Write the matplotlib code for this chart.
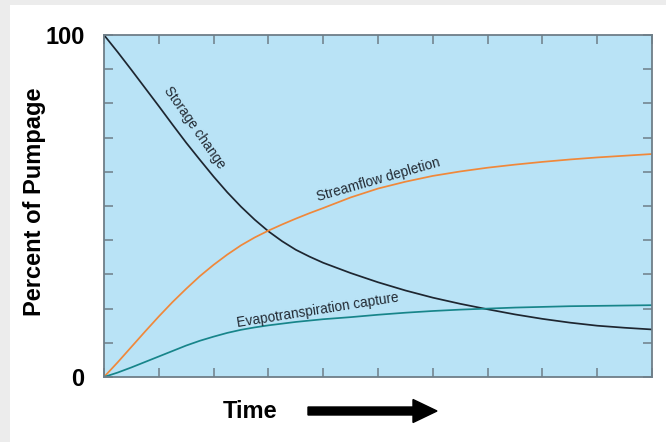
import matplotlib
matplotlib.use("Agg")
import matplotlib.pyplot as plt
import matplotlib.transforms as mtransforms
from matplotlib.patches import FancyArrow, Rectangle

# values (percent of pumpage vs. relative time)
time = [0, 0.25, 0.5, 0.75, 1, 1.25, 1.5, 1.75, 2, 2.25, 2.5, 2.75, 3, 3.25, 3.5, 3.75, 4,
        4.5, 5, 5.5, 6, 6.5, 7, 7.5, 8, 8.5, 9, 9.5, 10]
storage_change = [100, 95, 89.8, 84.5, 79.2, 73.8, 68.5, 63.5, 58.6, 54.0, 49.8, 46.0, 42.6, 39.7,
                  37.2, 35.2, 33.4, 30.4, 27.7, 25.3, 23.2, 21.4, 19.8, 18.3, 17.0, 15.9, 15.0, 14.4, 13.9]
streamflow_depletion = [0, 4.3, 8.8, 13.3, 17.7, 21.9, 25.8, 29.5, 32.8, 35.8, 38.5, 40.8, 42.8, 44.6,
                        46.3, 47.9, 49.4, 52.5, 55.1, 57.1, 58.8, 60.1, 61.2, 62.1, 62.9, 63.6, 64.2, 64.7, 65.2]
et_capture = [0, 1.3, 2.8, 4.4, 6.0, 7.6, 9.2, 10.6, 11.8, 12.9, 13.8, 14.5, 15.1, 15.6,
              16.1, 16.5, 16.9, 17.5, 18.2, 18.8, 19.3, 19.7, 20.0, 20.3, 20.5, 20.7, 20.8, 20.9, 21.0]

y_ticks = list(range(0, 101, 10))
y_ticklabels = ["0" if v == 0 else ("100" if v == 100 else "") for v in y_ticks]
x_ticks = list(range(0, 11))

W, H = 666, 442
fig = plt.figure(figsize=(W / 100, H / 100), dpi=100, facecolor="#ececec")
# white panel inside the light grey border
fig.add_artist(Rectangle((10 / W, 0), 1, 1 - 5 / H, transform=fig.transFigure,
                         facecolor="white", edgecolor="none", zorder=-10))

ax = fig.add_axes([104 / W, (H - 377) / H, 548 / W, 342 / H])
ax.set_facecolor("#b9e3f6")

ax.plot(time, storage_change, color="#1e2630", lw=1.25)
ax.plot(time, streamflow_depletion, color="#f0883a", lw=1.25)
ax.plot(time, et_capture, color="#17858a", lw=1.25)

ax.set_xlim(0, 10)
ax.set_ylim(0, 100)
ax.set_xticks(x_ticks)
ax.set_xticklabels([])
ax.set_yticks(y_ticks)
ax.set_yticklabels(y_ticklabels, fontsize=17, fontweight="bold", family="Liberation Sans")
shift = mtransforms.ScaledTranslation(0, -4 / 100, fig.dpi_scale_trans)
for lab in ax.get_yticklabels():
    lab.set_transform(lab.get_transform() + shift)

frame_col = "#6e7e88"
for s in ax.spines.values():
    s.set_color(frame_col)
    s.set_linewidth(1.3)
ax.tick_params(direction="in", length=6.5, width=1.1, color=frame_col,
               top=True, right=True, pad=14)

lab_font = ["Liberation Sans", "DejaVu Sans"]
lab_col = "#222a33"
ax.text(1.66, 73.0, "Storage change", rotation=-55, ha="center", va="center",
        fontsize=9.8, color=lab_col, family=lab_font, rotation_mode="anchor")
ax.text(5.0, 57.6, "Streamflow depletion", rotation=16, ha="center", va="center",
        fontsize=9.8, color=lab_col, family=lab_font, rotation_mode="anchor")
ax.text(3.9, 19.4, "Evapotranspiration capture", rotation=9, ha="center", va="center",
        fontsize=9.8, color=lab_col, family=lab_font, rotation_mode="anchor")

fig.text(35 / W, 1 - 202 / H, "Percent of Pumpage", rotation=90, ha="center", va="center",
         fontsize=17, fontweight="bold", family="Liberation Sans")
fig.text(250 / W, 1 - 411 / H, "Time", ha="center", va="center",
         fontsize=17, fontweight="bold", family="Liberation Sans")

fig.add_artist(FancyArrow(308, H - 411, 129, 0, width=8, head_width=23, head_length=24,
                          length_includes_head=True, color="black",
                          transform=mtransforms.IdentityTransform()))

fig.savefig("out.png", dpi=100, facecolor=fig.get_facecolor())
